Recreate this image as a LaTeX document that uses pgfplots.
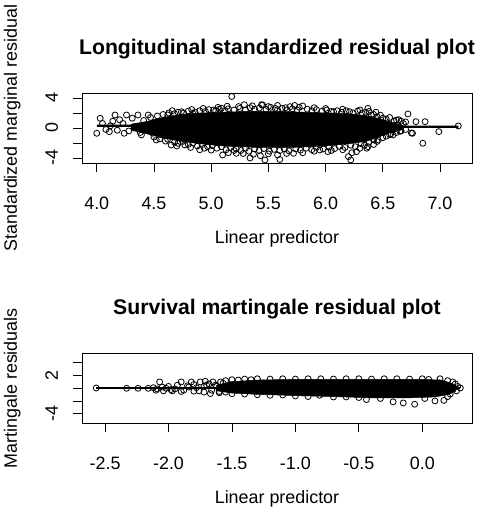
\documentclass[border=0pt]{standalone}
\usepackage{fontspec}
\setmainfont{Liberation Sans}
\usepackage{pgfplots}
\pgfplotsset{compat=1.18}

\newcommand{\lab}{\fontsize{17.9}{20}\selectfont}
\newcommand{\ttl}{\fontsize{21.2}{24}\selectfont\bfseries}

\pgfplotsset{
  rpanel/.style={
    scale only axis, width=390pt, height=70pt,
    axis line style={line width=0.9pt},
    tick pos=left, tick align=outside,
    major tick length=9pt,
    every tick/.style={black, line width=0.8pt},
    tick label style={font=\lab},
    xticklabel style={anchor=base, yshift=-37pt},
    yticklabel style={rotate=90, anchor=base, yshift=15pt},
    label style={font=\lab},
    xlabel style={at={(axis description cs:0.5,0)}, anchor=base, yshift=-80pt},
    ylabel style={at={(axis description cs:-0.1667,0.5)}, rotate=0, anchor=base},
    title style={font=\ttl, at={(axis description cs:0.5,1)}, anchor=base, yshift=33pt},
    clip=true,
  },
  core/.style={fill=black, draw=black, line width=0.5pt},
  pts/.style={only marks, mark=o, mark size=3.0pt, mark options={line width=0.8pt, draw=black}},
  fit/.style={black, line width=2.3pt},
}

\begin{document}
\begin{tikzpicture}
\path[use as bounding box] (0,0) rectangle (483pt,523pt);

% ---------------- longitudinal sub-model ----------------
\begin{axis}[rpanel,
  at={(82pt,359.7pt)}, anchor=south west,
  xmin=3.871, xmax=7.28, ymin=-4.71, ymax=4.62,
  xtick={4,4.5,5,5.5,6,6.5,7},
  xticklabels={4.0,4.5,5.0,5.5,6.0,6.5,7.0},
  ytick={-4,-2,0,2,4},
  yticklabels={-4,,0,,4},
  title={Longitudinal standardized residual plot},
  xlabel={Linear predictor},
  ylabel={Standardized marginal residual},
]
% dense centre of the cloud
\addplot[core] coordinates {
 (4.30,0.5) (4.45,0.9) (4.55,1.3) (4.65,1.6) (4.8,1.9) (5.0,2.05)
 (5.3,2.2) (5.6,2.2) (5.9,2.05) (6.2,1.9) (6.38,1.6) (6.5,1.1) (6.6,0.7)
 (6.68,0.3) (6.68,-0.2) (6.55,-0.7) (6.45,-1.3) (6.35,-1.8)
 (6.2,-2.1) (6.0,-2.4) (5.7,-2.6) (5.4,-2.6) (5.1,-2.4) (4.9,-2.1)
 (4.75,-1.8) (4.6,-1.4) (4.5,-1.0) (4.30,-0.3)
} -- cycle;
% individual residuals
\addplot[pts] table {
x y
4.03 1.29
4.00 -0.71
4.16 1.73
4.11 -0.49
4.26 1.73
4.24 -0.71
4.36 1.73
4.39 -0.93
4.45 1.73
4.52 -1.60
4.62 1.73
4.65 -2.27
4.74 2.17
4.77 -2.27
4.84 1.96
4.94 -2.70
5.02 2.40
5.10 -3.60
5.09 2.62
5.22 -3.38
5.34 -4.00
5.18 4.20
5.44 3.10
5.45 3.07
5.47 -4.27
5.56 2.62
5.60 -4.20
5.69 2.84
5.72 -3.38
5.80 2.93
5.95 -2.93
6.02 -3.16
6.07 2.17
6.21 2.17
6.20 -3.82
6.22 -4.27
6.23 -3.30
6.27 -3.16
6.37 2.62
6.38 2.20
6.40 1.73
6.37 -2.49
6.36 -2.70
6.50 1.29
6.46 -1.60
6.62 1.07
6.66 0.90
6.59 -0.93
6.56 -0.90
6.65 -0.44
6.72 1.87
6.76 -0.71
6.75 -0.67
6.79 0.84
6.87 0.84
6.85 -2.04
6.99 -0.49
7.16 0.27
4.05 0.60
4.08 -0.20
4.12 0.30
4.14 0.90
4.18 -0.30
4.20 1.10
4.23 0.60
4.28 -0.40
4.31 1.30
4.34 0.20
4.38 -0.60
4.41 1.00
4.44 -0.20
4.47 1.40
4.50 0.70
4.53 1.60
4.56 -0.90
4.49 -0.70
4.58 1.80
4.63 2.00
4.68 1.90
4.71 2.10
4.76 2.00
4.80 2.25
4.86 2.10
4.90 2.30
4.95 2.20
4.98 2.45
5.04 2.30
5.07 2.50
5.12 2.30
5.15 2.55
5.20 2.40
5.25 2.60
5.30 2.40
5.34 2.70
5.38 2.50
5.42 2.65
5.48 2.50
5.52 2.75
5.58 2.45
5.62 2.60
5.66 2.40
5.71 2.55
5.75 2.40
5.84 2.50
5.88 2.30
5.92 2.45
5.97 2.25
6.01 2.40
6.05 2.20
6.10 2.30
6.14 2.10
6.18 2.30
6.24 2.00
6.28 2.25
6.32 1.95
6.35 2.10
6.42 1.80
6.45 1.50
6.48 1.70
6.53 1.20
6.56 1.40
6.60 0.90
6.64 1.10
6.68 0.60
6.70 0.80
4.50 -1.20
4.55 -1.45
4.60 -1.75
4.62 -1.50
4.68 -1.90
4.71 -2.05
4.75 -1.80
4.80 -2.20
4.84 -2.00
4.88 -2.40
4.92 -2.20
4.97 -2.50
5.01 -2.35
5.05 -2.70
5.09 -2.50
5.13 -2.90
5.17 -2.60
5.22 -2.80
5.26 -3.00
5.30 -2.70
5.33 -3.10
5.38 -2.80
5.42 -3.00
5.46 -2.75
5.51 -3.10
5.55 -2.85
5.60 -3.00
5.64 -2.80
5.68 -3.05
5.74 -2.80
5.78 -2.95
5.83 -2.70
5.88 -2.90
5.92 -2.60
5.98 -2.80
6.03 -2.55
6.08 -2.75
6.12 -2.45
6.17 -2.60
6.22 -2.30
6.26 -2.50
6.31 -2.10
6.34 -2.30
6.38 -1.90
6.42 -1.60
6.45 -1.80
6.50 -1.30
6.53 -1.10
6.57 -0.80
6.62 -0.60
6.66 -0.40
6.70 -0.20
4.66 2.30
4.83 2.45
4.93 2.60
5.06 2.75
5.14 2.90
5.24 2.85
5.29 3.10
5.36 2.95
5.50 2.85
5.58 3.00
5.65 2.70
5.73 3.00
5.77 2.75
5.90 2.70
6.00 2.60
6.15 2.50
6.30 2.40
6.44 2.10
4.70 -2.40
4.82 -2.60
4.90 -2.90
5.00 -2.95
5.15 -3.30
5.20 -3.00
5.28 -3.40
5.37 -3.50
5.43 -3.70
5.50 -3.45
5.58 -3.60
5.66 -3.40
5.80 -3.30
5.90 -3.10
6.05 -3.00
6.15 -2.90
6.30 -2.70
6.42 -2.20
};
% smooth trend
\addplot[fit] coordinates {(4.00,0.30) (5.00,0.25) (6.00,0.20) (7.16,0.15)};
\end{axis}

% ---------------- survival sub-model ----------------
\begin{axis}[rpanel,
  at={(82pt,99.7pt)}, anchor=south west,
  xmin=-2.682, xmax=0.392, ymin=-5.5, ymax=5.5,
  xtick={-2.5,-2,-1.5,-1,-0.5,0},
  xticklabels={-2.5,-2.0,-1.5,-1.0,-0.5,0.0},
  ytick={-4,-2,0,2,4},
  yticklabels={-4,,,2,},
  title={Survival martingale residual plot},
  xlabel={Linear predictor},
  ylabel={Martingale residuals},
]
\addplot[core] coordinates {
 (-1.62,0.5) (-1.5,1.05) (-1.3,1.3) (-1.0,1.4)
 (-0.5,1.4) (0.0,1.4) (0.15,1.3) (0.23,0.8) (0.28,0.2) (0.26,-0.5)
 (0.2,-1.0) (0.1,-1.35) (-0.1,-1.5) (-0.4,-1.5) (-0.7,-1.3) (-1.0,-1.15)
 (-1.3,-0.95) (-1.5,-0.75) (-1.62,-0.4)
} -- cycle;
\addplot[pts] table {
x y
-2.57 0.05
-2.33 0.00
-2.24 0.00
-2.16 0.00
-2.12 0.10
-2.09 -0.10
-2.07 1.00
-2.02 0.00
-2.05 0.20
-2.10 -0.30
-2.00 0.30
-1.98 -0.20
-1.95 -0.10
-1.93 0.50
-1.90 1.00
-1.88 -0.30
-1.85 0.40
-1.84 0.20
-1.82 1.00
-1.80 0.60
-1.78 0.10
-1.76 -0.40
-1.75 1.00
-1.72 0.30
-1.71 1.10
-1.70 0.50
-1.68 0.70
-1.66 -0.30
-1.65 1.00
-1.63 0.50
-1.62 0.30
-1.60 -0.50
-1.59 1.00
-1.57 0.80
-1.55 -0.60
-2.04 -0.40
-1.97 -0.40
-1.90 -0.50
-1.80 -0.45
-1.72 -0.60
-1.67 -0.83
-1.60 -0.70
-1.50 -0.85
-1.40 -0.90
-1.30 -1.00
-1.20 -1.10
-1.10 -1.05
-1.00 -1.20
-0.90 -1.30
-0.81 -1.10
-0.70 -1.36
-0.60 -1.36
-0.50 -1.45
-0.44 -1.77
-0.33 -1.60
-0.23 -2.13
-0.15 -2.30
-0.06 -2.50
0.02 -1.60
0.10 -1.98
0.17 -1.90
0.20 -1.30
-1.55 1.20
-1.50 1.35
-1.45 1.30
-1.40 1.45
-1.35 1.35
-1.30 1.50
-1.20 1.45
-1.10 1.50
-1.00 1.45
-0.90 1.50
-0.80 1.50
-0.70 1.45
-0.60 1.50
-0.50 1.50
-0.40 1.45
-0.30 1.50
-0.20 1.50
-0.10 1.45
0.00 1.50
0.05 1.40
0.14 1.50
0.20 1.20
0.24 1.00
0.26 0.70
0.30 0.05
0.28 0.30
0.27 -0.40
0.22 -0.90
};
\addplot[fit] coordinates {(-2.57,0.0) (0.30,0.0)};
\end{axis}
\end{tikzpicture}
\end{document}
